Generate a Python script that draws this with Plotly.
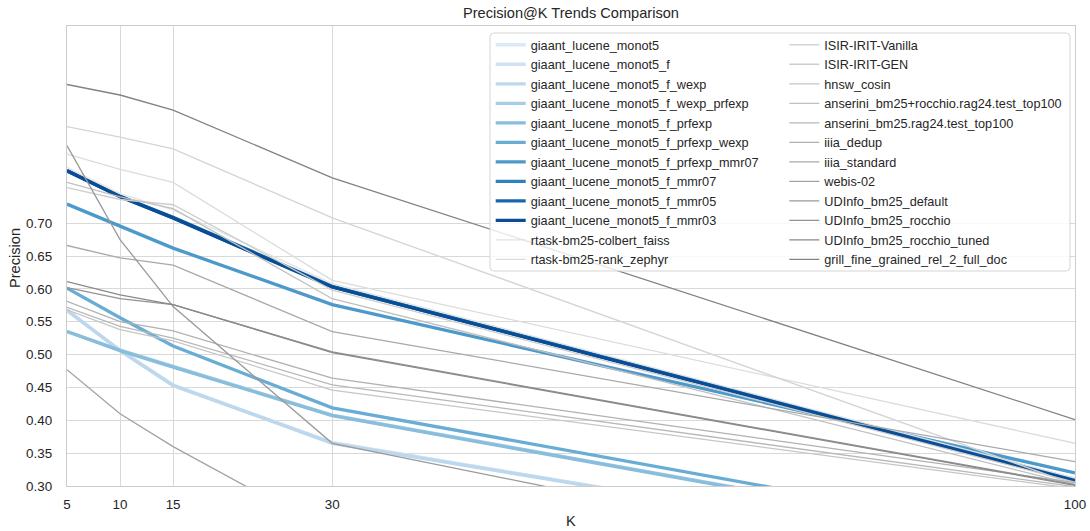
import plotly.graph_objects as go

# ---- data -----------------------------------------------------------------
k_values = [5, 10, 15, 30, 100]

giaant_names = [
    "giaant_lucene_monot5",
    "giaant_lucene_monot5_f",
    "giaant_lucene_monot5_f_wexp",
    "giaant_lucene_monot5_f_wexp_prfexp",
    "giaant_lucene_monot5_f_prfexp",
    "giaant_lucene_monot5_f_prfexp_wexp",
    "giaant_lucene_monot5_f_prfexp_mmr07",
    "giaant_lucene_monot5_f_mmr07",
    "giaant_lucene_monot5_f_mmr05",
    "giaant_lucene_monot5_f_mmr03",
]
giaant_monot5 = [0.567, 0.507, 0.454, 0.366, 0.176]
giaant_monot5_f = [0.568, 0.506, 0.453, 0.366, 0.178]
giaant_monot5_f_wexp = [0.567, 0.506, 0.453, 0.365, 0.177]
giaant_monot5_f_wexp_prfexp = [0.535, 0.507, 0.482, 0.408, 0.205]
giaant_monot5_f_prfexp = [0.535, 0.506, 0.481, 0.407, 0.204]
giaant_monot5_f_prfexp_wexp = [0.601, 0.556, 0.513, 0.419, 0.214]
giaant_monot5_f_prfexp_mmr07 = [0.729, 0.695, 0.662, 0.576, 0.320]
giaant_monot5_f_mmr07 = [0.779, 0.741, 0.709, 0.604, 0.310]
giaant_monot5_f_mmr05 = [0.780, 0.741, 0.708, 0.603, 0.309]
giaant_monot5_f_mmr03 = [0.780, 0.740, 0.708, 0.603, 0.308]

other_names = [
    "rtask-bm25-colbert_faiss",
    "rtask-bm25-rank_zephyr",
    "ISIR-IRIT-Vanilla",
    "ISIR-IRIT-GEN",
    "hnsw_cosin",
    "anserini_bm25+rocchio.rag24.test_top100",
    "anserini_bm25.rag24.test_top100",
    "iiia_dedup",
    "iiia_standard",
    "webis-02",
    "UDInfo_bm25_default",
    "UDInfo_bm25_rocchio",
    "UDInfo_bm25_rocchio_tuned",
    "grill_fine_grained_rel_2_full_doc",
]
rtask_colbert_faiss = [0.785, 0.745, 0.720, 0.608, 0.312]
rtask_rank_zephyr = [0.805, 0.782, 0.762, 0.613, 0.365]
isir_irit_vanilla = [0.847, 0.831, 0.813, 0.708, 0.302]
isir_irit_gen = [0.754, 0.736, 0.728, 0.598, 0.306]
hnsw_cosin = [0.568, 0.538, 0.521, 0.446, 0.296]
anserini_bm25_rocchio = [0.762, 0.740, 0.722, 0.585, 0.302]
anserini_bm25 = [0.572, 0.543, 0.525, 0.454, 0.299]
iiia_dedup = [0.581, 0.550, 0.536, 0.464, 0.305]
iiia_standard = [0.666, 0.647, 0.636, 0.535, 0.337]
webis_02 = [0.477, 0.410, 0.360, 0.228, 0.100]
udinfo_bm25_default = [0.818, 0.675, 0.573, 0.365, 0.136]
udinfo_bm25_rocchio = [0.602, 0.585, 0.576, 0.504, 0.302]
udinfo_bm25_rocchio_tuned = [0.611, 0.591, 0.576, 0.503, 0.301]
grill_fine_grained = [0.911, 0.895, 0.872, 0.769, 0.401]

giaant_series = [
    giaant_monot5, giaant_monot5_f, giaant_monot5_f_wexp,
    giaant_monot5_f_wexp_prfexp, giaant_monot5_f_prfexp,
    giaant_monot5_f_prfexp_wexp, giaant_monot5_f_prfexp_mmr07,
    giaant_monot5_f_mmr07, giaant_monot5_f_mmr05, giaant_monot5_f_mmr03,
]
other_series = [
    rtask_colbert_faiss, rtask_rank_zephyr, isir_irit_vanilla, isir_irit_gen,
    hnsw_cosin, anserini_bm25_rocchio, anserini_bm25, iiia_dedup,
    iiia_standard, webis_02, udinfo_bm25_default, udinfo_bm25_rocchio,
    udinfo_bm25_rocchio_tuned, grill_fine_grained,
]

y_ticks = [0.30, 0.35, 0.40, 0.45, 0.50, 0.55, 0.60, 0.65, 0.70]

# ---- style ----------------------------------------------------------------
blue_shades = [
    "#dbe9f6", "#cfe1f2", "#bdd7ec", "#a6cde4", "#88bedc",
    "#69add5", "#4c99ca", "#3080bd", "#1966ad", "#084d96",
]
grey_shades = [
    "#e2e2e2", "#dcdcdc", "#d4d4d4", "#cdcdcd", "#c6c6c6", "#bfbfbf",
    "#b8b8b8", "#b1b1b1", "#a9a9a9", "#a2a2a2", "#9a9a9a", "#929292",
    "#8a8a8a", "#828282",
]
FONT = "Liberation Sans, Arial, sans-serif"
TEXT = "#262626"
W, H = 1090, 531
L, R, T, B = 67, 15, 26, 45
PW, PH = W - L - R, H - T - B


def px_x(x):
    return (x - L) / PW


def px_y(y):
    return (H - B - y) / PH


fig = go.Figure()

for name, vals, col in zip(giaant_names, giaant_series, blue_shades):
    fig.add_trace(go.Scatter(
        x=k_values, y=vals, mode="lines", name=name,
        line=dict(color=col, width=3.3), legend="legend",
    ))

# the two rtask runs close the first legend column, the rest fill the second
for i, (name, vals, col) in enumerate(zip(other_names, other_series, grey_shades)):
    fig.add_trace(go.Scatter(
        x=k_values, y=vals, mode="lines", name=name,
        line=dict(color=col, width=1.3),
        legend="legend" if i < 2 else "legend2",
    ))

# legend frame (semi-transparent white box with rounded corners)
x0, x1 = px_x(490), px_x(1070)
y0, y1 = px_y(271), px_y(33)
rx, ry = 4 / PW, 4 / PH
frame_path = (
    f"M {x0 + rx},{y1} L {x1 - rx},{y1} Q {x1},{y1} {x1},{y1 - ry} "
    f"L {x1},{y0 + ry} Q {x1},{y0} {x1 - rx},{y0} "
    f"L {x0 + rx},{y0} Q {x0},{y0} {x0},{y0 + ry} "
    f"L {x0},{y1 - ry} Q {x0},{y1} {x0 + rx},{y1} Z"
)
fig.add_shape(
    type="path", path=frame_path, xref="paper", yref="paper",
    fillcolor="rgba(255,255,255,0.8)", line=dict(color="#d5d5d5", width=1),
    layer="above",
)

legend_common = dict(
    xref="container", yref="container", xanchor="left", yanchor="top",
    bgcolor="rgba(0,0,0,0)", borderwidth=0, itemwidth=30,
    font=dict(family=FONT, size=12.7, color=TEXT), tracegroupgap=0,
)

fig.update_layout(
    width=W, height=H,
    margin=dict(l=L, r=R, t=T, b=B, autoexpand=False),
    paper_bgcolor="white", plot_bgcolor="white",
    font=dict(family=FONT, color=TEXT),
    title=dict(
        text="Precision@K Trends Comparison", x=0.5, xref="paper",
        xanchor="center", y=1 - 12.5 / H, yref="container", yanchor="middle",
        font=dict(family=FONT, size=14.6, color=TEXT),
    ),
    legend=dict(x=490.7 / W, y=1 - 30 / H, **legend_common),
    legend2=dict(x=784.3 / W, y=1 - 30 / H, **legend_common),
    xaxis=dict(
        range=[5, 100], tickvals=k_values, ticktext=[str(k) for k in k_values],
        showgrid=True, gridcolor="#d9d9d9", gridwidth=1,
        showline=True, mirror=True, linecolor="#cccccc", linewidth=1.4,
        zeroline=False, ticks="", ticklabelstandoff=6,
        tickfont=dict(family=FONT, size=13.4, color=TEXT),
    ),
    yaxis=dict(
        range=[0.30, 1.0], tickvals=y_ticks,
        ticktext=[f"{v:.2f}" for v in y_ticks],
        showgrid=True, gridcolor="#d9d9d9", gridwidth=1,
        showline=True, mirror=True, linecolor="#cccccc", linewidth=1.4,
        zeroline=False, ticks="", ticklabelstandoff=11,
        tickfont=dict(family=FONT, size=13.4, color=TEXT),
    ),
    annotations=[
        dict(text="K", x=0.5, y=px_y(521), xref="paper", yref="paper",
             showarrow=False, xanchor="center", yanchor="middle",
             font=dict(family=FONT, size=14.6, color=TEXT)),
        dict(text="Precision", x=px_x(15), y=px_y(258), xref="paper",
             yref="paper", showarrow=False, textangle=-90,
             xanchor="center", yanchor="middle",
             font=dict(family=FONT, size=14.6, color=TEXT)),
    ],
    showlegend=True,
)

fig.write_html("out.html")
